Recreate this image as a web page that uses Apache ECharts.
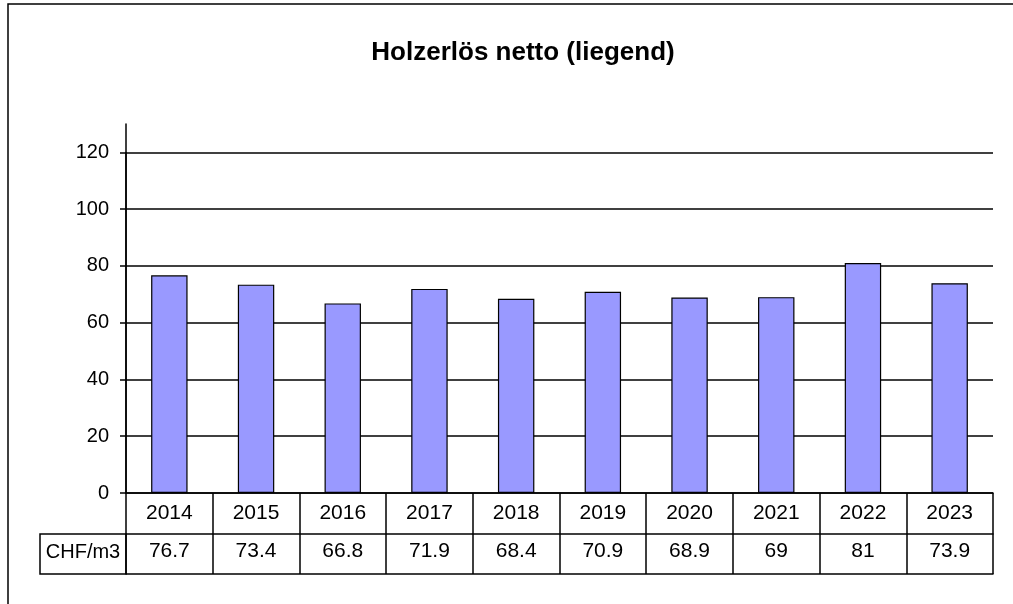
<!DOCTYPE html>
<html>
<head>
<meta charset="utf-8">
<script src="https://cdn.jsdelivr.net/npm/echarts@6/dist/echarts.min.js"></script>
<style>
  html, body { margin: 0; padding: 0; background: #fff; }
  #chart { width: 1013px; height: 604px; }
</style>
</head>
<body>
<div id="chart"></div>
<script>
// Holzerlös netto (liegend), CHF/m3 pro Jahr
const years = ["2014", "2015", "2016", "2017", "2018", "2019", "2020", "2021", "2022", "2023"]
const chfPerM3 = [76.7, 73.4, 66.8, 71.9, 68.4, 70.9, 68.9, 69, 81, 73.9]
const rowLabel = "CHF/m3"
const yMax = 120
const yAxisTop = 130 // Achse ragt über die letzte Rasterlinie hinaus
const yStep = 20

const FONT = "Liberation Sans, Arial, sans-serif"
const left = 126
const right = 20
const bottom = 111
const rowH = 41
const black = "#000"

const chart = echarts.init(document.getElementById("chart"))

// top des Hauptgitters so, dass beide Gitter gleich skaliert sind
const plotTop = 124
const pxPerUnit = (604 - bottom - plotTop) / yAxisTop
const mainTop = plotTop + (yAxisTop - yMax) * pxPerUnit

const option = {
  backgroundColor: "#fff",
  animation: false,
  title: {
    text: "Holzerlös netto (liegend)",
    left: 518,
    textAlign: "center",
    top: 35,
    textStyle: { fontFamily: FONT, fontSize: 26, fontWeight: "bold", color: black }
  },
  grid: [
    { left, right, top: plotTop, bottom }, // nur die verlängerte Y-Achse
    { left, right, top: mainTop, bottom } // Balken, Raster, Tabelle
  ],
  xAxis: [
    {
      gridIndex: 1,
      type: "category",
      data: years,
      axisLine: { lineStyle: { color: black, width: 1.5 } },
      axisTick: { show: true, length: rowH * 2 - 1, lineStyle: { color: black, width: 1.5 } },
      axisLabel: { fontFamily: FONT, fontSize: 21, color: black, margin: 10 }
    },
    {
      gridIndex: 1,
      type: "category",
      position: "bottom",
      offset: rowH,
      data: chfPerM3.map(String),
      axisLine: { lineStyle: { color: black, width: 1.5 } },
      axisTick: { show: false },
      axisLabel: { fontFamily: FONT, fontSize: 21, color: black, margin: 7 }
    },
    {
      gridIndex: 1,
      type: "category",
      position: "bottom",
      offset: rowH * 2 - 1,
      data: years,
      axisLine: { lineStyle: { color: black, width: 1.5 } },
      axisTick: { show: false },
      axisLabel: { show: false }
    },
    { gridIndex: 0, type: "category", data: years, show: false }
  ],
  yAxis: [
    {
      gridIndex: 0,
      type: "value",
      min: 0,
      max: yAxisTop,
      axisLine: { show: true, lineStyle: { color: black, width: 1.5 } },
      axisTick: { show: false },
      axisLabel: { show: false },
      splitLine: { show: false }
    },
    {
      gridIndex: 1,
      type: "value",
      min: 0,
      max: yMax,
      interval: yStep,
      axisLine: { show: true, lineStyle: { color: black, width: 1.5 } },
      axisTick: { show: true, length: 6, lineStyle: { color: black, width: 1.5 } },
      axisLabel: { fontFamily: FONT, fontSize: 20, color: black, margin: 17 },
      splitLine: { show: true, lineStyle: { color: black, width: 1.5 } }
    }
  ],
  series: [
    {
      type: "bar",
      name: rowLabel,
      xAxisIndex: 0,
      yAxisIndex: 1,
      data: chfPerM3,
      barWidth: "42%",
      itemStyle: { color: "#9999FF", borderColor: black, borderWidth: 1.2 }
    }
  ],
  graphic: [
    // Rahmen links und oben
    {
      type: "rect",
      shape: { x: 8, y: 4, width: 1200, height: 800 },
      style: { fill: null, stroke: black, lineWidth: 1.5 },
      silent: true
    },
    // Zelle "CHF/m3" links der Tabelle
    {
      type: "group",
      x: 40,
      y: 604 - bottom + rowH,
      children: [
        {
          type: "rect",
          shape: { x: 0, y: 0, width: left - 40, height: rowH - 1 },
          style: { fill: null, stroke: black, lineWidth: 1.5 }
        },
        {
          type: "text",
          x: (left - 40) / 2,
          y: rowH / 2 - 2,
          style: {
            text: rowLabel,
            fontFamily: FONT,
            fontSize: 20,
            fill: black,
            align: "center",
            verticalAlign: "middle"
          }
        }
      ]
    }
  ]
}

chart.setOption(option)
</script>
</body>
</html>
